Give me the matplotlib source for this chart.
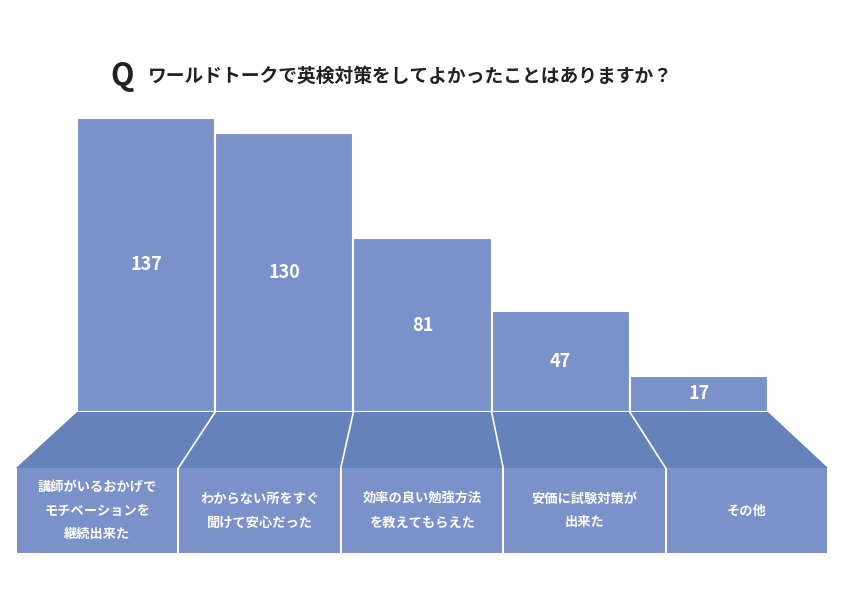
import matplotlib.pyplot as plt
from matplotlib.patches import Polygon, Rectangle

plt.rcParams['font.family'] = ['Noto Sans CJK JP', 'DejaVu Sans']

labels = ['講師がいるおかげで\nモチベーションを\n継続出来た', 'わからない所をすぐ\n聞けて安心だった',
          '効率の良い勉強方法\nを教えてもらえた', '安価に試験対策が\n出来た', 'その他']
values = [137, 130, 81, 47, 17]
title = 'ワールドトークで英検対策をしてよかったことはありますか？'

bar_c = '#7b91c9'
band_c = '#6682ba'
W, H = 842, 595

fig = plt.figure(figsize=(W / 100, H / 100), dpi=100)
bg = fig.add_axes([0, 0, 1, 1])
bg.set_xlim(0, W)
bg.set_ylim(H, 0)
bg.axis('off')

# bars in data coordinates
x0, x1, base = 77, 768, 412
ymax = 140
px_per = (412 - 118) / 137
ax = fig.add_axes([x0 / W, (H - base) / H, (x1 - x0) / W, ymax * px_per / H])
n = len(values)
ax.bar(range(n), values, width=1, color=bar_c, edgecolor='white', linewidth=1.5)
ax.set_xlim(-0.5, n - 0.5)
ax.set_ylim(0, ymax)
ax.axis('off')
for i, v in enumerate(values):
    ax.text(i, v / 2, str(v), ha='center', va='center', color='white',
            fontsize=13, fontweight='bold')

# perspective band and label boxes
top_edges = [x0 + (x1 - x0) * i / n for i in range(n + 1)]
bx0, bx1 = 16, 828
bot_edges = [bx0 + (bx1 - bx0) * i / n for i in range(n + 1)]
y_band, y_box, y_end = 412, 468, 553
bg.add_patch(Polygon([(x0, y_band), (x1, y_band), (bx1, y_box), (bx0, y_box)],
                     closed=True, color=band_c, lw=0))
for i in range(1, n):
    bg.plot([top_edges[i], bot_edges[i]], [y_band, y_box], color='white', lw=1.2)
for i in range(n):
    bg.add_patch(Rectangle((bot_edges[i] + 1, y_box), bot_edges[i + 1] - bot_edges[i] - 2,
                           y_end - y_box, color=bar_c, lw=0))
    bg.text((bot_edges[i] + bot_edges[i + 1]) / 2, (y_box + y_end) / 2, labels[i],
            ha='center', va='center', color='white', fontsize=9.5, fontweight='bold',
            linespacing=1.9)

bg.text(110, 76, 'Q', fontsize=22, fontweight='bold', va='center', color='#222222')
bg.text(148, 76, title, fontsize=13.5, fontweight='bold', va='center', color='#222222')

fig.savefig('out.png', dpi=100)
